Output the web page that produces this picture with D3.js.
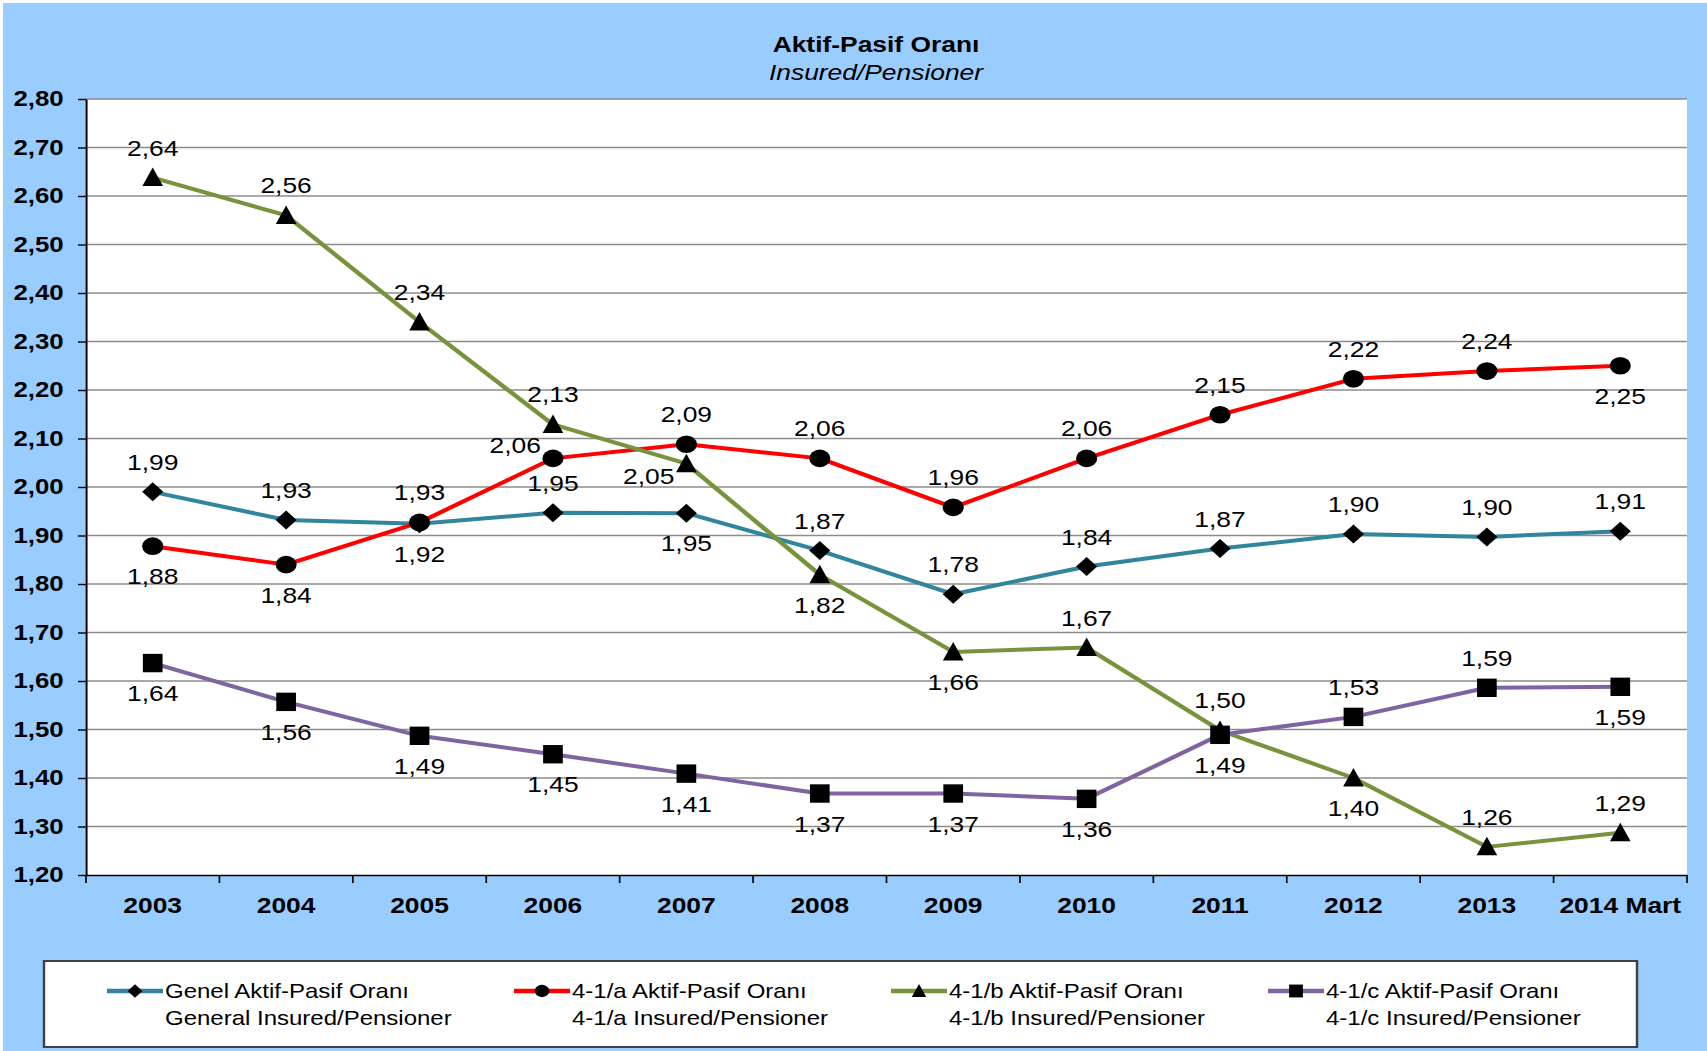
<!DOCTYPE html>
<html>
<head>
<meta charset="utf-8">
<script src="https://cdn.jsdelivr.net/npm/d3@7"></script>
<style>
    html, body { margin: 0; padding: 0; background: #fff; overflow: hidden; }
    svg { display: block; }
    text { font-family: "Liberation Sans", Arial, sans-serif; }
</style>
</head>
<body>
<div id="chart"></div>
<script>
const years = ['2003', '2004', '2005', '2006', '2007', '2008', '2009', '2010', '2011', '2012', '2013', '2014 Mart'];
const yTicks = [1.2, 1.3, 1.4, 1.5, 1.6, 1.7, 1.8, 1.9, 2.0, 2.1, 2.2, 2.3, 2.4, 2.5, 2.6, 2.7, 2.8];

const genel = [1.99, 1.932, 1.924, 1.947, 1.946, 1.869, 1.779, 1.836, 1.873, 1.903, 1.897, 1.909];
const ratio41a = [1.878, 1.840, 1.927, 2.059, 2.088, 2.059, 1.958, 2.059, 2.149, 2.223, 2.239, 2.25];
const ratio41b = [2.638, 2.56, 2.34, 2.129, 2.048, 1.819, 1.66, 1.669, 1.498, 1.40, 1.258, 1.287];
const ratio41c = [1.637, 1.557, 1.487, 1.449, 1.409, 1.368, 1.368, 1.357, 1.489, 1.526, 1.586, 1.588];

const legendLine1 = ['Genel Aktif-Pasif Oranı', '4-1/a Aktif-Pasif Oranı', '4-1/b Aktif-Pasif Oranı', '4-1/c Aktif-Pasif Oranı'];
const legendLine2 = ['General Insured/Pensioner', '4-1/a Insured/Pensioner', '4-1/b Insured/Pensioner', '4-1/c Insured/Pensioner'];

// the original picture is stretched sideways, so draw in a narrower space and stretch it
const SX = 1.2;
const W = 1707;
const H = 1051;
const plot = { left: 86, right: 1687, top: 99, bottom: 875 };

const series = [
    { values: genel, color: '#31859C', marker: 'diamond',
      pos: ['a', 'a', 'b', 'a', 'b', 'a', 'a', 'a', 'a', 'a', 'a', 'a'] },
    { values: ratio41a, color: '#FF0000', marker: 'circle',
      pos: ['b', 'b', 'a', 'lu', 'a', 'a', 'a', 'a', 'a', 'a', 'a', 'b'] },
    { values: ratio41b, color: '#77933C', marker: 'triangle',
      pos: ['a', 'a', 'a', 'a', 'ld', 'b', 'b', 'a', 'a', 'b', 'a', 'a'] },
    { values: ratio41c, color: '#8064A2', marker: 'square',
      pos: ['b', 'b', 'b', 'b', 'b', 'b', 'b', 'b', 'b', 'a', 'a', 'b'] },
];

const markerPaths = {
    diamond: 'M0,-9.5L8.8,0L0,9.5L-8.8,0Z',
    triangle: 'M0,-10L8.6,8.5L-8.6,8.5Z',
    square: 'M-8.2,-9.2H8.2V9.2H-8.2Z',
};

function drawMarker(g, type, cx, cy, k) {
    if (type === 'circle') {
        g.append('circle')
            .attr('cx', cx)
            .attr('cy', cy)
            .attr('r', 8.8 * k)
            .attr('fill', '#000');
    } else {
        g.append('path')
            .attr('d', markerPaths[type])
            .attr('transform', `translate(${cx},${cy}) scale(${k})`)
            .attr('fill', '#000');
    }
}

const fmt = (v) => v.toFixed(2).replace('.', ',');

const svg = d3.select('#chart')
    .append('svg')
    .attr('width', W)
    .attr('height', H)
    .attr('viewBox', `0 0 ${W / SX} ${H}`)
    .attr('preserveAspectRatio', 'none');

// background
svg.append('rect')
    .attr('x', 3 / SX)
    .attr('y', 3)
    .attr('width', (W - 3) / SX)
    .attr('height', H - 3)
    .attr('fill', '#99CCFF');

svg.append('rect')
    .attr('x', plot.left / SX)
    .attr('y', plot.top)
    .attr('width', (plot.right - plot.left) / SX)
    .attr('height', plot.bottom - plot.top)
    .attr('fill', '#fff');

// title
svg.append('text')
    .attr('x', 876 / SX)
    .attr('y', 52)
    .attr('text-anchor', 'middle')
    .attr('font-size', '22px')
    .attr('font-weight', 'bold')
    .text('Aktif-Pasif Oranı');

svg.append('text')
    .attr('x', 876 / SX)
    .attr('y', 80)
    .attr('text-anchor', 'middle')
    .attr('font-size', '22px')
    .attr('font-style', 'italic')
    .text('Insured/Pensioner');

const x = d3.scaleBand()
    .domain(years)
    .range([plot.left / SX, plot.right / SX]);
const y = d3.scaleLinear()
    .domain([1.2, 2.8])
    .range([plot.bottom, plot.top]);
const cx = (i) => x(years[i]) + x.bandwidth() / 2;

// gridlines
svg.append('g')
    .selectAll('line')
    .data(yTicks.slice(1))
    .enter()
    .append('line')
    .attr('x1', plot.left / SX)
    .attr('x2', plot.right / SX)
    .attr('y1', (d) => y(d))
    .attr('y2', (d) => y(d))
    .attr('stroke', '#8c8c8c')
    .attr('stroke-width', 1.4);

// y axis
svg.append('g')
    .attr('transform', `translate(${plot.left / SX},0)`)
    .call(d3.axisLeft(y).tickValues(yTicks).tickSize(8 / SX).tickSizeOuter(0).tickPadding(12).tickFormat(fmt))
    .call((g) => g.select('.domain').attr('stroke', '#000').attr('stroke-width', 1.6))
    .call((g) => g.selectAll('.tick line').attr('stroke', '#000').attr('stroke-width', 1.4))
    .call((g) => g.selectAll('.tick text')
        .attr('fill', '#000')
        .attr('font-size', '21.5px')
        .attr('font-weight', 'bold')
        .attr('font-family', '"Liberation Sans", Arial, sans-serif'));

// x axis
svg.append('g')
    .attr('transform', `translate(0,${plot.bottom})`)
    .call(d3.axisBottom(x).tickSize(0).tickPadding(0).tickSizeOuter(0))
    .call((g) => g.select('.domain').attr('stroke', '#000').attr('stroke-width', 1.6))
    .call((g) => g.selectAll('.tick text')
        .attr('fill', '#000')
        .attr('y', 38)
        .attr('dy', 0)
        .attr('font-size', '22px')
        .attr('font-weight', 'bold')
        .attr('font-family', '"Liberation Sans", Arial, sans-serif'));

const edges = years.map((d) => x(d)).concat([x.range()[1]]);
svg.append('g')
    .selectAll('line')
    .data(edges)
    .enter()
    .append('line')
    .attr('x1', (d) => d)
    .attr('x2', (d) => d)
    .attr('y1', plot.bottom)
    .attr('y2', plot.bottom + 8)
    .attr('stroke', '#000')
    .attr('stroke-width', 1.4);

// series lines
const line = d3.line()
    .x((d, i) => cx(i))
    .y((d) => y(d));

series.forEach((s) => {
    svg.append('path')
        .datum(s.values)
        .attr('d', line)
        .attr('fill', 'none')
        .attr('stroke', s.color)
        .attr('stroke-width', 4)
        .attr('stroke-linejoin', 'round');
});

// markers
series.forEach((s) => {
    const g = svg.append('g');
    s.values.forEach((v, i) => drawMarker(g, s.marker, cx(i), y(v), 1));
});

// data labels
series.forEach((s) => {
    const g = svg.append('g');
    s.values.forEach((v, i) => {
        const p = s.pos[i];
        const t = g.append('text')
            .attr('font-size', '22px')
            .attr('fill', '#000')
            .text(fmt(v));
        if (p === 'a' || p === 'b') {
            t.attr('x', cx(i))
                .attr('text-anchor', 'middle')
                .attr('y', y(v) + (p === 'a' ? -22 : 38));
        } else {
            t.attr('x', cx(i) - 12 / SX)
                .attr('text-anchor', 'end')
                .attr('y', y(v) + 7.5 + (p === 'lu' ? -13 : 13));
        }
    });
});

// legend
svg.append('rect')
    .attr('x', 44 / SX)
    .attr('y', 961)
    .attr('width', (1637 - 44) / SX)
    .attr('height', 86)
    .attr('fill', '#fff')
    .attr('stroke', '#404040')
    .attr('stroke-width', 2);

const legendX = [107, 514, 891, 1268];
series.forEach((s, i) => {
    const g = svg.append('g');
    const x0 = legendX[i] / SX;
    const x1 = x0 + 56 / SX;
    g.append('line')
        .attr('x1', x0)
        .attr('x2', x1)
        .attr('y1', 991)
        .attr('y2', 991)
        .attr('stroke', s.color)
        .attr('stroke-width', 4.5);
    drawMarker(g, s.marker, (x0 + x1) / 2, 991, 0.7);
    g.append('text')
        .attr('x', x1 + 2 / SX)
        .attr('y', 998)
        .attr('font-size', '20px')
        .text(legendLine1[i]);
    g.append('text')
        .attr('x', x1 + 2 / SX)
        .attr('y', 1025)
        .attr('font-size', '20px')
        .text(legendLine2[i]);
});
</script>
</body>
</html>
